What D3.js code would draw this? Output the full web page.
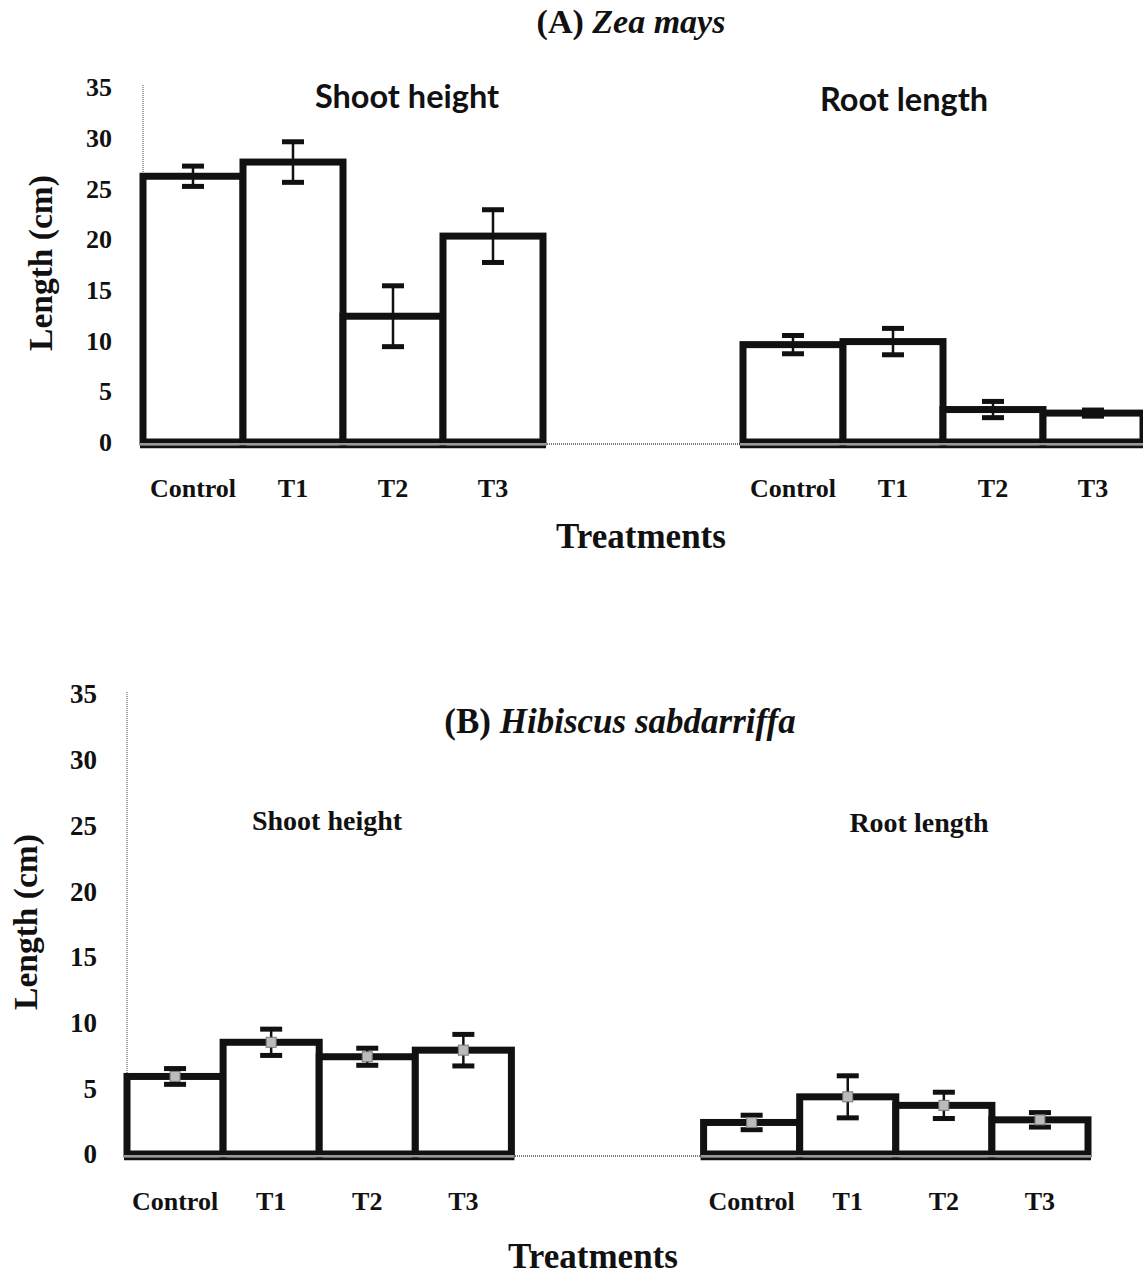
<!DOCTYPE html>
<html>
<head>
<meta charset="utf-8">
<script src="https://cdn.jsdelivr.net/npm/d3@7"></script>
<style>
  body { margin: 0; background: #fff; }
  text { font-family: "Liberation Serif", "Times New Roman", serif; font-weight: bold; fill: #111; }
</style>
</head>
<body>
<div id="chart"></div>
<script>
// categories
var treatments = ["Control", "T1", "T2", "T3"];
var groups = ["Shoot height", "Root length"];
var yTicks = [0, 5, 10, 15, 20, 25, 30, 35];

// (A) Zea mays
var zeaShoot = [26.2, 27.6, 12.4, 20.3];
var zeaShootErr = [1.0, 2.0, 3.0, 2.6];
var zeaRoot = [9.6, 9.9, 3.2, 2.85];
var zeaRootErr = [0.9, 1.3, 0.8, 0.3];

// (B) Hibiscus sabdarriffa
var hibShoot = [5.9, 8.5, 7.4, 7.9];
var hibShootErr = [0.6, 1.0, 0.65, 1.2];
var hibRoot = [2.4, 4.35, 3.7, 2.6];
var hibRootErr = [0.55, 1.6, 1.0, 0.55];

var W = 1143, H = 1278;

var svg = d3.select("#chart").append("svg")
    .attr("width", W)
    .attr("height", H);

function makeRows(shoot, shootErr, root, rootErr){
  var rows = [];
  treatments.forEach(function(t, i){
    rows.push({group: groups[0], t: t, v: shoot[i], e: shootErr[i]});
  });
  treatments.forEach(function(t, i){
    rows.push({group: groups[1], t: t, v: root[i], e: rootErr[i]});
  });
  return rows;
}

function drawPanel(p){
  var rows = makeRows(p.shoot, p.shootErr, p.root, p.rootErr);

  var x0 = d3.scaleBand().domain(groups)
      .range([p.left, p.right]).paddingInner(1/3).paddingOuter(0);
  var x1 = d3.scaleBand().domain(treatments)
      .range([0, x0.bandwidth()]).padding(0);
  var y = d3.scaleLinear().domain([0, 35]).range([p.bottom, p.top]);

  var g = svg.append("g");

  // y axis - thin dotted grey line, no tick marks
  g.append("line")
    .attr("x1", p.left).attr("x2", p.left)
    .attr("y1", y(35) - 2).attr("y2", y(0))
    .attr("stroke", "#888").attr("stroke-width", 1.5)
    .attr("stroke-dasharray", "1,1");

  // x axis baseline (dotted grey)
  g.append("line")
    .attr("x1", p.left).attr("x2", p.right)
    .attr("y1", y(0) + 2).attr("y2", y(0) + 2)
    .attr("stroke", "#777").attr("stroke-width", 2)
    .attr("stroke-dasharray", "1,1");

  // y tick labels
  g.selectAll(".ytick")
    .data(yTicks)
    .enter().append("text")
    .attr("x", p.tickX)
    .attr("y", function(d){ return y(d); })
    .attr("dy", "0.35em")
    .attr("text-anchor", "end")
    .style("font-size", p.tickSize + "px")
    .text(function(d){ return d; });

  // bars
  g.selectAll(".bar")
    .data(rows)
    .enter().append("rect")
    .attr("x", function(d){ return x0(d.group) + x1(d.t); })
    .attr("y", function(d){ return y(d.v); })
    .attr("width", x1.bandwidth())
    .attr("height", function(d){ return y(0) - y(d.v); })
    .attr("fill", "#fff")
    .attr("stroke", "#111")
    .attr("stroke-width", 7);

  // bottom double line under bars
  groups.forEach(function(gr){
    g.append("line")
      .attr("x1", x0(gr) - 3).attr("x2", x0(gr) + x0.bandwidth() + 3)
      .attr("y1", y(0) + 2).attr("y2", y(0) + 2)
      .attr("stroke", "#999").attr("stroke-width", 2);
    g.append("line")
      .attr("x1", x0(gr) - 3).attr("x2", x0(gr) + x0.bandwidth() + 3)
      .attr("y1", y(0) + 5).attr("y2", y(0) + 5)
      .attr("stroke", "#111").attr("stroke-width", 2.5);
  });

  // error bars
  var capW = 22;
  var eb = g.selectAll(".err")
    .data(rows)
    .enter().append("g")
    .attr("transform", function(d){ return "translate(" + (x0(d.group) + x1(d.t) + x1.bandwidth()/2) + ",0)"; });

  eb.append("line")
    .attr("y1", function(d){ return y(d.v + d.e); })
    .attr("y2", function(d){ return y(d.v - d.e); })
    .attr("stroke", "#111").attr("stroke-width", 2.5);

  eb.append("rect")
    .attr("x", -capW/2).attr("width", capW)
    .attr("y", function(d){ return y(d.v + d.e) - 2.5; })
    .attr("height", 5).attr("fill", "#111");

  eb.append("rect")
    .attr("x", -capW/2).attr("width", capW)
    .attr("y", function(d){ return y(d.v - d.e) - 2.5; })
    .attr("height", 5).attr("fill", "#111");

  if (p.marker) {
    eb.append("rect")
      .attr("x", -5).attr("width", 10)
      .attr("y", function(d){ return y(d.v) - 5; })
      .attr("height", 10)
      .attr("fill", "#bbb").attr("stroke", "#777").attr("stroke-width", 1);
  }

  // category labels
  g.selectAll(".xlab")
    .data(rows)
    .enter().append("text")
    .attr("x", function(d){ return x0(d.group) + x1(d.t) + x1.bandwidth()/2; })
    .attr("y", p.xLabY)
    .attr("text-anchor", "middle")
    .style("font-size", p.xLabSize + "px")
    .text(function(d){ return d.t; });

  // group labels
  g.selectAll(".glab")
    .data(groups)
    .enter().append("text")
    .attr("x", function(d, i){ return p.groupX[i]; })
    .attr("y", function(d, i){ return p.groupY[i]; })
    .attr("text-anchor", "middle")
    .style("font-family", p.groupFont)
    .style("font-size", p.groupSize + "px")
    .text(function(d){ return d; });

  // title
  var title = g.append("text")
    .attr("x", p.titleX).attr("y", p.titleY)
    .attr("text-anchor", "middle")
    .style("font-size", p.titleSize + "px");
  title.append("tspan").text(p.titleTag + " ");
  title.append("tspan").style("font-style", "italic").text(p.species);

  // axis titles
  g.append("text")
    .attr("x", p.xTitleX).attr("y", p.xTitleY)
    .attr("text-anchor", "middle")
    .style("font-size", "35px")
    .text("Treatments");

  g.append("text")
    .attr("transform", "translate(" + p.yTitleX + "," + p.yTitleY + ") rotate(-90)")
    .attr("text-anchor", "middle")
    .attr("dy", "0.35em")
    .style("font-size", "33.5px")
    .text("Length (cm)");
}

drawPanel({
  shoot: zeaShoot, shootErr: zeaShootErr, root: zeaRoot, rootErr: zeaRootErr,
  left: 143, right: 1143, top: 87, bottom: 442,
  tickX: 112, tickSize: 26,
  xLabY: 497, xLabSize: 26,
  groupX: [407, 904], groupY: [108, 111],
  groupFont: "Lato, 'Open Sans', sans-serif", groupSize: 32.5,
  titleX: 631, titleY: 33, titleSize: 34, titleTag: "(A)", species: "Zea mays",
  xTitleX: 641, xTitleY: 548,
  yTitleX: 40, yTitleY: 263,
  marker: false
});

drawPanel({
  shoot: hibShoot, shootErr: hibShootErr, root: hibRoot, rootErr: hibRootErr,
  left: 127, right: 1088, top: 694, bottom: 1154,
  tickX: 97, tickSize: 27,
  xLabY: 1210, xLabSize: 26,
  groupX: [327, 919], groupY: [830, 832],
  groupFont: "'Liberation Serif', serif", groupSize: 28,
  titleX: 620, titleY: 733, titleSize: 35, titleTag: "(B)", species: "Hibiscus sabdarriffa",
  xTitleX: 593, xTitleY: 1268,
  yTitleX: 25, yTitleY: 922,
  marker: true
});
</script>
</body>
</html>
